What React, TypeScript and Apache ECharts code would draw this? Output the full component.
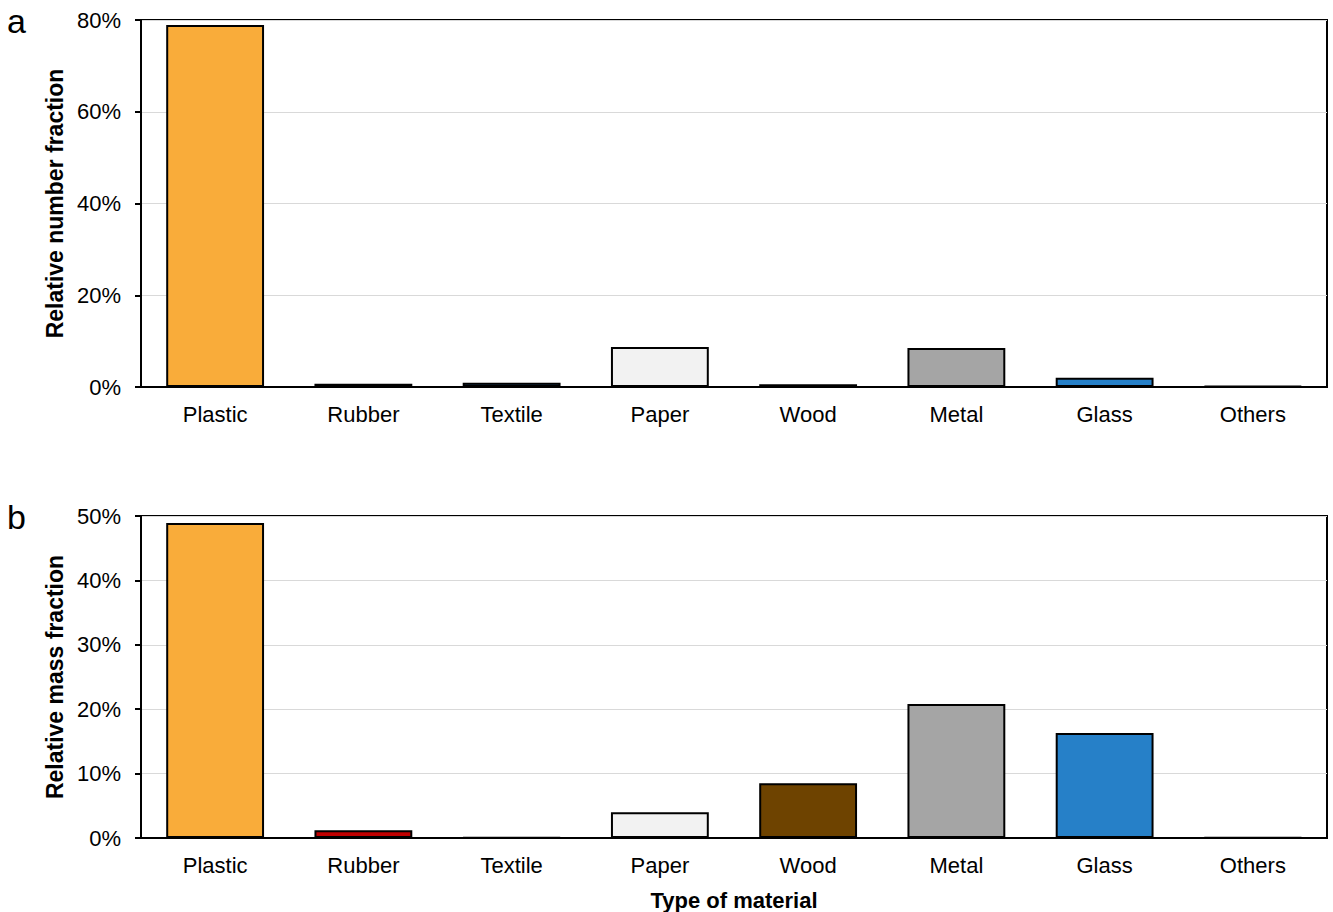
import React, { useEffect, useRef } from "react";
import * as echarts from "echarts";

const categories = ["Plastic", "Rubber", "Textile", "Paper", "Wood", "Metal", "Glass", "Others"];
const numberFraction = [78.9, 0.7, 0.9, 8.7, 0.6, 8.5, 2.0, 0.2];
const massFraction = [48.9, 1.2, 0.1, 4.0, 8.5, 20.8, 16.3, 0.1];
const colors = ["#F9AC3A", "#C00000", "#1F4E79", "#F2F2F2", "#6E4300", "#A5A5A5", "#2680C8", "#000000"];
const panelLabels = ["a", "b"];
const yTitles = ["Relative number fraction", "Relative mass fraction"];
const xTitle = "Type of material";

const FONT = "'Liberation Sans', Arial, sans-serif";

export default function App() {
  const ref = useRef<HTMLDivElement>(null);
  useEffect(() => {
    document.body.style.margin = "0";
    const chart = echarts.init(ref.current!, null, { renderer: "svg" });
    const makeData = (vals: number[]) =>
      vals.map((v, i) => ({
        value: v,
        itemStyle: { color: colors[i], borderColor: "#000", borderWidth: 2 },
      }));
    const yAxisCommon = (max: number, interval: number, name: string, gridIndex: number) => ({
      type: "value",
      gridIndex,
      min: 0,
      max,
      interval,
      name,
      nameLocation: "middle",
      nameGap: 73,
      nameTextStyle: { fontFamily: FONT, fontSize: 23, fontWeight: "bold", color: "#000" },
      axisLine: { show: true, lineStyle: { color: "#000", width: 2 } },
      axisTick: { show: true, length: 6, lineStyle: { color: "#000", width: 2 } },
      axisLabel: { formatter: "{value}%", fontFamily: FONT, fontSize: 22, color: "#000", margin: 20 },
      splitLine: { show: true, lineStyle: { color: "#D9D9D9", width: 1 } },
    });
    const xAxisCommon = (gridIndex: number, withName: boolean) => ({
      type: "category",
      gridIndex,
      data: categories,
      name: withName ? xTitle : "",
      nameLocation: "middle",
      nameGap: 51,
      nameTextStyle: { fontFamily: FONT, fontSize: 22, fontWeight: "bold", color: "#000" },
      axisLine: { show: true, lineStyle: { color: "#000", width: 2 } },
      axisTick: { show: false },
      axisLabel: { fontFamily: FONT, fontSize: 22, color: "#000", margin: 16 },
    });
    chart.setOption({
      animation: false,
      backgroundColor: "#fff",
      grid: [
        { left: 141, right: 6, top: 20, bottom: 525, show: true, borderColor: "#000", borderWidth: 2, backgroundColor: "transparent", outerBoundsMode: "none", containLabel: false },
        { left: 141, right: 6, top: 516, bottom: 74, show: true, borderColor: "#000", borderWidth: 2, backgroundColor: "transparent", outerBoundsMode: "none", containLabel: false },
      ],
      xAxis: [xAxisCommon(0, false), xAxisCommon(1, true)],
      yAxis: [yAxisCommon(80, 20, yTitles[0], 0), yAxisCommon(50, 10, yTitles[1], 1)],
      series: [
        { type: "bar", xAxisIndex: 0, yAxisIndex: 0, barWidth: "66%", data: makeData(numberFraction) },
        { type: "bar", xAxisIndex: 1, yAxisIndex: 1, barWidth: "66%", data: makeData(massFraction) },
      ],
      graphic: [
        { type: "text", left: 7, top: 4, style: { text: panelLabels[0], fontFamily: FONT, fontSize: 34, fill: "#000" } },
        { type: "text", left: 7, top: 500, style: { text: panelLabels[1], fontFamily: FONT, fontSize: 34, fill: "#000" } },
      ],
    });
    return () => chart.dispose();
  }, []);
  return <div ref={ref} style={{ width: 1333, height: 912 }} />;
}
